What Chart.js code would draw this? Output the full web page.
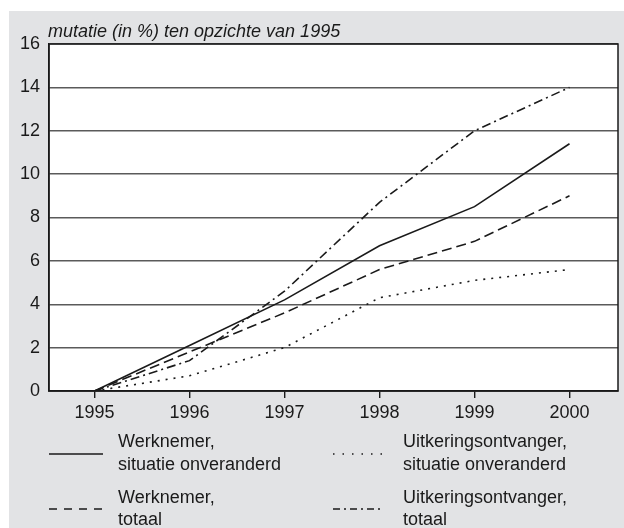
<!DOCTYPE html>
<html>
<head>
<meta charset="utf-8">
<script src="https://cdn.jsdelivr.net/npm/chart.js@4/dist/chart.umd.min.js"></script>
<style>
  html, body { margin: 0; padding: 0; background: #fff; }
  #wrap { width: 624px; height: 528px; position: relative; }
</style>
</head>
<body>
<div id="wrap"><canvas id="myChart" width="624" height="528"></canvas></div>
<script>
// data
const years = [1995, 1996, 1997, 1998, 1999, 2000];
const werknemerOnveranderd = [0, 2.1, 4.2, 6.7, 8.5, 11.4];
const werknemerTotaal = [0, 1.8, 3.6, 5.6, 6.9, 9.0];
const uitkeringOnveranderd = [0, 0.7, 2.0, 4.3, 5.1, 5.6];
const uitkeringTotaal = [0, 1.4, 4.6, 8.7, 12.0, 14.0];
const seriesNames = [
  ['Werknemer,', 'situatie onveranderd'],
  ['Werknemer,', 'totaal'],
  ['Uitkeringsontvanger,', 'situatie onveranderd'],
  ['Uitkeringsontvanger,', 'totaal']
];
const yMin = 0, yMax = 16, yStep = 2;
const titleText = 'mutatie (in %) ten opzichte van 1995';

const ink = '#1a1a1a';
const font = '"Liberation Sans", Arial, sans-serif';
const dashes = [[], [10, 5], [2, 6], [9, 4, 2, 4]];
const legendDashes = [[], [8, 7], [1.5, 8], [7, 4, 2, 4]];

function pts(vals) {
  return years.map((y, i) => ({ x: y, y: vals[i] }));
}

let sets = [werknemerOnveranderd, werknemerTotaal, uitkeringOnveranderd, uitkeringTotaal];

let data = {
  datasets: sets.map((vals, i) => ({
    label: seriesNames[i].join(' '),
    data: pts(vals),
    borderColor: ink,
    borderWidth: 1.6,
    borderDash: dashes[i],
    pointRadius: 0,
    tension: 0,
    fill: false
  }))
};

const decor = {
  id: 'decor',
  beforeDraw(chart) {
    const c = chart.ctx, a = chart.chartArea;
    c.save();
    c.fillStyle = '#fff';
    c.fillRect(0, 0, chart.width, chart.height);
    c.fillStyle = '#e2e3e5';
    c.fillRect(9, 11, chart.width - 9, chart.height - 11);
    c.fillStyle = '#fff';
    c.fillRect(a.left, a.top, a.right - a.left, a.bottom - a.top);
    c.restore();
  },
  afterDraw(chart) {
    const c = chart.ctx, a = chart.chartArea;
    c.save();
    // frame
    c.strokeStyle = ink;
    c.lineWidth = 1.5;
    c.setLineDash([]);
    c.strokeRect(a.left, a.top, a.right - a.left, a.bottom - a.top);
    // title
    c.fillStyle = ink;
    c.font = 'italic 18px ' + font;
    c.textBaseline = 'alphabetic';
    c.textAlign = 'left';
    c.fillText(titleText, 48, 37);
    // legend
    const cols = [{ x0: 49, x1: 103, tx: 118 }, { x0: 333, x1: 382, tx: 403 }];
    const rows = [{ ly: 454, t1: 442, t2: 465 }, { ly: 509, t1: 498, t2: 520 }];
    const order = [[0, 0], [1, 0], [0, 1], [1, 1]]; // [row, col]
    c.font = '18px ' + font;
    c.textBaseline = 'middle';
    order.forEach((rc, i) => {
      const r = rows[rc[0]], col = cols[rc[1]];
      c.beginPath();
      c.setLineDash(legendDashes[i]);
      c.lineWidth = 1.5;
      c.moveTo(col.x0, r.ly);
      c.lineTo(col.x1, r.ly);
      c.stroke();
      c.fillText(seriesNames[i][0], col.tx, r.t1);
      c.fillText(seriesNames[i][1], col.tx, r.t2);
    });
    c.restore();
  }
};

let ctx = document.getElementById('myChart');
let myLineChart = new Chart(ctx, {
  type: 'line',
  data: data,
  plugins: [decor],
  options: {
    responsive: false,
    animation: false,
    layout: { padding: { top: 44, right: 6, bottom: 0, left: 0 } },
    plugins: {
      legend: { display: false },
      title: { display: false },
      tooltip: { enabled: false }
    },
    scales: {
      x: {
        type: 'linear',
        min: 1995 - 45.5 / 95,
        max: 2000 + 48.5 / 95,
        afterFit: (scale) => { scale.height = 137; },
        grid: { drawOnChartArea: false, drawTicks: true, tickLength: 7, color: ink, lineWidth: 1.4 },
        border: { display: true, color: ink, width: 1.5 },
        ticks: {
          stepSize: 1,
          includeBounds: false,
          autoSkip: false,
          maxRotation: 0,
          padding: 4,
          color: ink,
          font: { family: font, size: 18 },
          callback: (v) => String(v)
        }
      },
      y: {
        min: yMin,
        max: yMax,
        afterFit: (scale) => { scale.width = 49; },
        grid: { drawTicks: false, color: '#5a5a5a', lineWidth: 1.5 },
        border: { display: true, color: ink, width: 1.5 },
        ticks: {
          stepSize: yStep,
          padding: 9,
          color: ink,
          font: { family: font, size: 18 }
        }
      }
    }
  }
});
</script>
</body>
</html>
